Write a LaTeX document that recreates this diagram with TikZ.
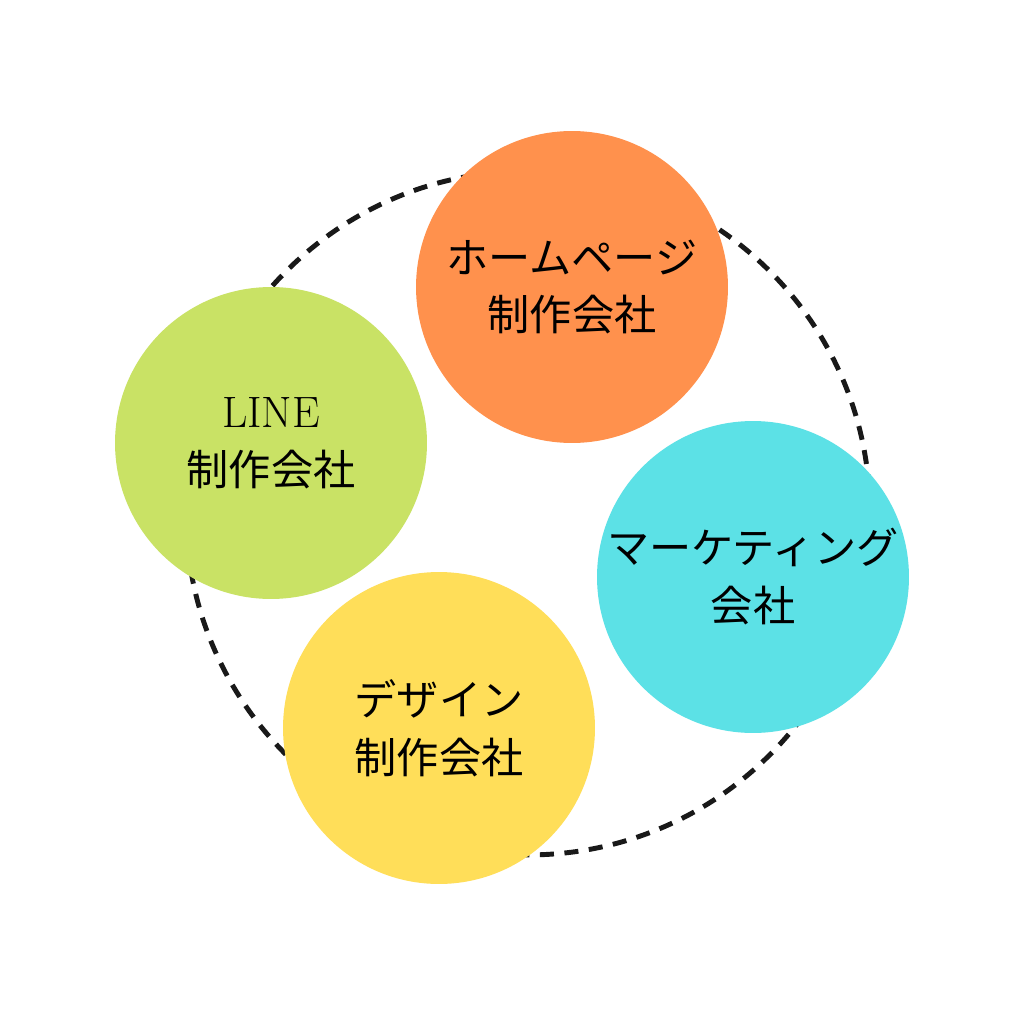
\documentclass[tikz,border=0pt]{standalone}
\usepackage{fontspec}
\newfontfamily\cjk{Noto Sans CJK JP}
\definecolor{corange}{HTML}{FF914D}
\definecolor{cgreen}{HTML}{C9E265}
\definecolor{ccyan}{HTML}{5CE1E6}
\definecolor{cyellow}{HTML}{FFDE59}
\begin{document}
\begin{tikzpicture}[x=0.02cm,y=-0.02cm,
  blob/.style={circle,minimum size=6.24cm,inner sep=0pt,align=center,font=\cjk\fontsize{24}{33}\selectfont,text=black}]
\useasboundingbox[fill=white] (0,0) rectangle (1024,1024);
\node[circle,draw=black!90,line width=2.8pt,dash pattern=on 8pt off 6pt,minimum size=13.68cm,inner sep=0pt] (ring) at (528,513) {};
\node[blob,fill=corange] (hp) at (572,287) {ホームページ\\制作会社};
\node[blob,fill=cgreen] (line) at (271,443) {\rmfamily\fontsize{25}{33}\selectfont LINE\\制作会社};
\node[blob,fill=ccyan] (mk) at (753,577) {マーケティング\\会社};
\node[blob,fill=cyellow] (ds) at (439,728) {デザイン\\制作会社};
\end{tikzpicture}
\end{document}
